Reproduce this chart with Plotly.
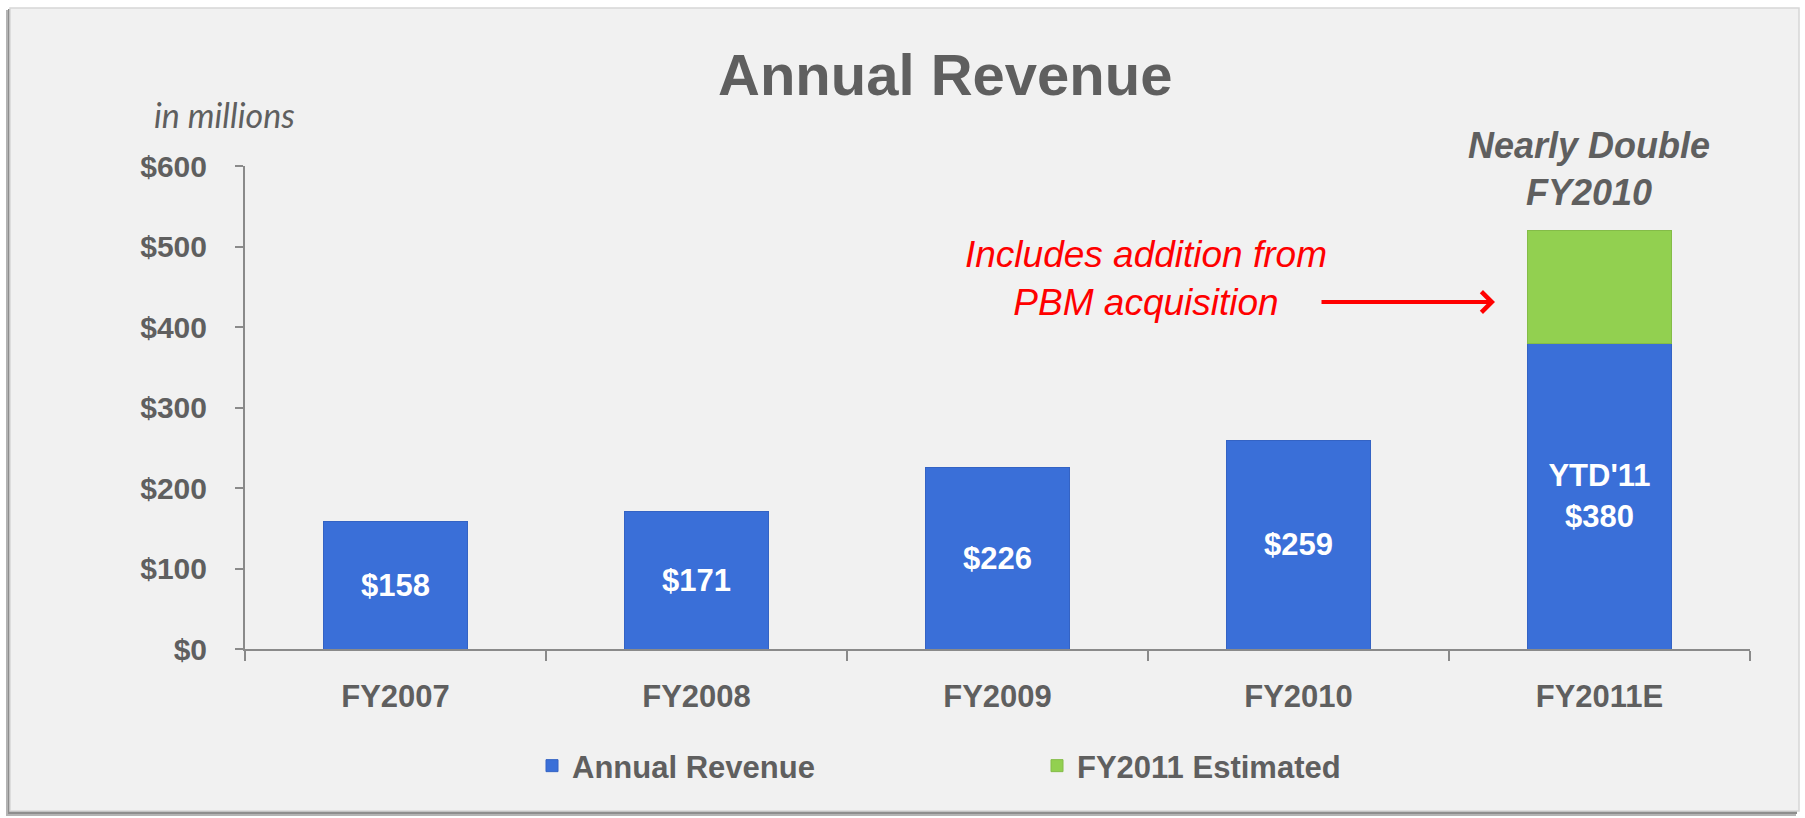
import plotly.graph_objects as go

# ---------------- data ----------------
categories = ["FY2007", "FY2008", "FY2009", "FY2010", "FY2011E"]
annual_revenue = [158, 171, 226, 259, 380]
annual_labels = ["$158", "$171", "$226", "$259", "YTD'11<br>$380"]
est_categories = ["FY2011E"]
est_addition = [140]          # stacked on top of YTD'11 (total ~520)
y_ticks = [0, 100, 200, 300, 400, 500, 600]
y_ticktext = ["$0", "$100", "$200", "$300", "$400", "$500", "$600"]
series_names = ["Annual Revenue", "FY2011 Estimated"]

# ---------------- layout geometry (pixels) ----------------
W, H = 1805, 818
L, R, T, B = 245, 55, 166, 169
PW, PH = W - L - R, H - T - B


def px2x(px):
    return (px - L) / PW


def px2y(py):
    return (H - B - py) / PH


FONT = "Liberation Sans, Arial, sans-serif"
GRAY = "#5f5f5f"
BLUE = "#3a6fd8"
GREEN = "#92d050"
AXIS = "#8a8a8a"

fig = go.Figure()
fig.add_trace(go.Bar(
    x=categories, y=annual_revenue, name=series_names[0],
    marker=dict(color=BLUE, line=dict(color="#3463c4", width=1)),
    text=annual_labels, textposition="inside", insidetextanchor="middle",
    textangle=0, constraintext="none",
    textfont=dict(family=FONT, size=31, color="white", weight="bold"),
    hoverinfo="skip",
))
fig.add_trace(go.Bar(
    x=est_categories, y=est_addition, name=series_names[1],
    marker=dict(color=GREEN, line=dict(color="#84bc48", width=1)),
    hoverinfo="skip",
))

shapes = [
    # shadow (left / bottom)
    dict(type="rect", xref="paper", yref="paper", layer="below",
         x0=px2x(6), x1=px2x(1796), y0=px2y(816), y1=px2y(10),
         fillcolor="#b4b4b4", line=dict(width=0)),
    dict(type="rect", xref="paper", yref="paper", layer="below",
         x0=px2x(8), x1=px2x(1797), y0=px2y(814), y1=px2y(9),
         fillcolor="#8e8e8e", line=dict(width=0)),
    # panel
    dict(type="rect", xref="paper", yref="paper", layer="below",
         x0=px2x(10), x1=px2x(1799), y0=px2y(811), y1=px2y(8),
         fillcolor="#f1f1f1", line=dict(color="#d6d6d6", width=1.5)),
]

annotations = [
    dict(text="<b>Annual Revenue</b>", xref="paper", yref="paper",
         x=px2x(945), y=px2y(74), xanchor="center", yanchor="middle",
         showarrow=False, font=dict(family=FONT, size=58, color=GRAY)),
    dict(text="<i>in millions</i>", xref="paper", yref="paper",
         x=px2x(152), y=px2y(115), xanchor="left", yanchor="middle",
         showarrow=False, font=dict(family="Lato, sans-serif", size=34, color=GRAY)),
    dict(text="<b><i>Nearly Double</i></b><br><b><i>FY2010</i></b>", xref="paper", yref="paper",
         x=px2x(1589), y=px2y(169), xanchor="center", yanchor="middle",
         showarrow=False, align="center",
         font=dict(family=FONT, size=36, color=GRAY)),
    dict(text="<i>Includes addition from</i><br><i>PBM acquisition</i>", xref="paper", yref="paper",
         x=px2x(1146), y=px2y(278), xanchor="center", yanchor="middle",
         showarrow=False, align="center",
         font=dict(family=FONT, size=37, color="#ff0000")),
    dict(text="", xref="paper", yref="paper",
         x=px2x(1495), y=px2y(302), ax=-175, ay=0,
         showarrow=True, arrowhead=4, arrowsize=1.0, arrowwidth=4,
         arrowcolor="#ff0000"),
]

fig.update_layout(
    width=W, height=H,
    margin=dict(l=L, r=R, t=T, b=B, pad=0),
    paper_bgcolor="#ffffff", plot_bgcolor="rgba(0,0,0,0)",
    barmode="stack", bargap=0.52,
    showlegend=True,
    legend=dict(orientation="h", x=px2x(532), y=px2y(766),
                xanchor="left", yanchor="middle",
                entrywidth=460, entrywidthmode="pixels",
                bgcolor="rgba(0,0,0,0)", traceorder="normal",
                font=dict(family=FONT, size=31, color=GRAY, weight="bold")),
    xaxis=dict(
        type="category", categoryorder="array", categoryarray=categories,
        showline=True, linecolor=AXIS, linewidth=2,
        ticks="outside", tickson="boundaries", ticklen=10, tickwidth=2, tickcolor=AXIS,
        ticklabelstandoff=19, showgrid=False, zeroline=False,
        tickfont=dict(family=FONT, size=31, color=GRAY, weight="bold"),
    ),
    yaxis=dict(
        range=[0, 600], tickvals=y_ticks, ticktext=y_ticktext,
        showline=True, linecolor=AXIS, linewidth=2,
        ticks="outside", ticklen=8, tickwidth=2, tickcolor=AXIS,
        ticklabelstandoff=22, showgrid=False, zeroline=False,
        tickfont=dict(family=FONT, size=30, color=GRAY, weight="bold"),
    ),
    shapes=shapes,
    annotations=annotations,
)

fig.write_html("out.html",
               config={"displayModeBar": False},
               post_script="document.body.style.margin='0px';document.body.style.overflow='hidden';")
